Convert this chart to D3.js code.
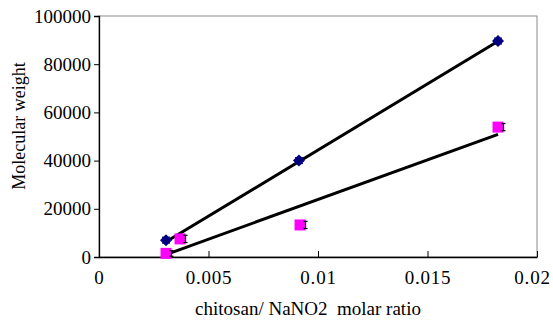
<!DOCTYPE html>
<html><head><meta charset="utf-8">
<script src="https://cdn.jsdelivr.net/npm/d3@7"></script>
</head><body style="margin:0">
<script>
const xTicks = [0, 0.005, 0.01, 0.015, 0.02];
const xTickLabels = ["0", "0.005", "0.01", "0.015", "0.02"];
const yTicks = [0, 20000, 40000, 60000, 80000, 100000];
const blueX = [0.00306, 0.00913, 0.01822];
const blueY = [7000, 40000, 89600];
const pinkX = [0.00306, 0.0037, 0.00918, 0.01822];
const pinkY = [1500, 7500, 13300, 53900];
const errSize = [1200, 1500, 1500, 1500];
const blueTrendX = [0.00306, 0.01822];
const blueTrendY = [6300, 89500];
const pinkTrendX = [0.00306, 0.01822];
const pinkTrendY = [1000, 50900];

const W = 553, H = 320;
const m = {l: 99, r: 16, t: 16, b: 63};
const svg = d3.select("body").append("svg").attr("width", W).attr("height", H).style("display", "block");
const x = d3.scaleLinear().domain([0, 0.02]).range([m.l, W - m.r]);
const y = d3.scaleLinear().domain([0, 100000]).range([H - m.b, m.t]);

function serif(sel, size) {
  sel.style("font-family", '"Liberation Serif"').style("font-size", size + "px").attr("fill", "#000");
}

svg.append("rect").attr("x", x(0)).attr("y", y(100000)).attr("width", x(0.02) - x(0)).attr("height", y(0) - y(100000))
  .attr("fill", "none").attr("stroke", "#8a8a8a").attr("stroke-width", 1);

const yAxis = d3.axisLeft(y).tickValues(yTicks).tickFormat(d3.format("d")).tickSize(5).tickPadding(3);
const gy = svg.append("g").attr("transform", `translate(${x(0)},0)`).call(yAxis);
gy.attr("font-family", null).attr("font-size", null);
gy.select(".domain").attr("stroke", "#000").attr("stroke-width", 1.3);
gy.selectAll("line").attr("stroke", "#000");
gy.selectAll("text").call(serif, 19);

const xAxis = d3.axisBottom(x).tickValues(xTicks).tickFormat((d, i) => xTickLabels[i]).tickSize(0).tickPadding(14);
const gx = svg.append("g").attr("transform", `translate(0,${y(0)})`).call(xAxis);
gx.attr("font-family", null).attr("font-size", null);
gx.select(".domain").attr("stroke", "#000").attr("stroke-width", 1.3);
gx.selectAll(".tick line").attr("y2", -6).attr("stroke", "#000");
gx.selectAll("text").call(serif, 19).style("letter-spacing", "0.8px");
gx.selectAll(".tick text").filter(d => d === 0.02).attr("dx", -5);

svg.append("text").attr("x", 308).attr("y", 315).attr("text-anchor", "middle")
  .call(serif, 19).style("white-space", "pre")
  .text("chitosan/ NaNO2  molar ratio");
svg.append("text").attr("transform", `translate(25,126) rotate(-90)`)
  .attr("text-anchor", "middle").call(serif, 18)
  .text("Molecular weight");

const line = d3.line().x(d => x(d[0])).y(d => y(d[1]));
svg.append("path").datum(d3.zip(blueTrendX, blueTrendY)).attr("d", line)
  .attr("stroke", "#000").attr("stroke-width", 3).attr("fill", "none");
svg.append("path").datum(d3.zip(pinkTrendX, pinkTrendY)).attr("d", line)
  .attr("stroke", "#000").attr("stroke-width", 3).attr("fill", "none");

const pink = d3.zip(pinkX, pinkY, errSize);
svg.selectAll(".pk").data(pink).enter().append("rect")
  .attr("x", d => x(d[0]) - 5.5).attr("y", d => y(d[1]) - 5.5).attr("width", 11).attr("height", 11)
  .attr("fill", "#ff00ff");
const eb = svg.append("g").attr("stroke", "#000").attr("stroke-width", 1.2);
pink.forEach(d => {
  const cx = x(d[0]) + 5.5;
  eb.append("line").attr("x1", cx).attr("x2", cx).attr("y1", y(d[1] - d[2])).attr("y2", y(d[1] + d[2]));
  eb.append("line").attr("x1", cx - 2).attr("x2", cx + 2).attr("y1", y(d[1] - d[2])).attr("y2", y(d[1] - d[2]));
  eb.append("line").attr("x1", cx - 2).attr("x2", cx + 2).attr("y1", y(d[1] + d[2])).attr("y2", y(d[1] + d[2]));
});

const blue = d3.zip(blueX, blueY);
svg.selectAll(".bl").data(blue).enter().append("path")
  .attr("transform", d => `translate(${x(d[0])},${y(d[1])})`)
  .attr("d", "M0,-6L6,0L0,6L-6,0Z").attr("fill", "#000080");
const eb2 = svg.append("g").attr("stroke", "#000080").attr("stroke-width", 1.2);
blue.forEach(d => {
  const cx = x(d[0]);
  eb2.append("line").attr("x1", cx).attr("x2", cx).attr("y1", y(d[1] - 1200)).attr("y2", y(d[1] + 1200));
  eb2.append("line").attr("x1", cx - 4).attr("x2", cx + 4).attr("y1", y(d[1] - 1200)).attr("y2", y(d[1] - 1200));
  eb2.append("line").attr("x1", cx - 4).attr("x2", cx + 4).attr("y1", y(d[1] + 1200)).attr("y2", y(d[1] + 1200));
});
</script>
</body></html>
